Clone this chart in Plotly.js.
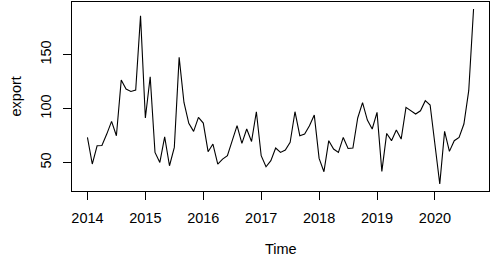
<!DOCTYPE html>
<html>
<head>
<meta charset="utf-8">
<script src="https://cdn.plot.ly/plotly-3.0.1.min.js"></script>
<style>html,body{margin:0;padding:0;background:#fff;}#chart{width:492px;height:259px;}</style>
</head>
<body>
<div id="chart"></div>
<script>
// Monthly series, starting Jan 2014
const startYear = 2014;
const frequency = 12;
const exportValues = [
  73.4, 48.8, 65.7, 66.0, 76.5, 88.3, 75.0, 126.5, 118.2, 116.0, 117.3, 186.0,
  91.4, 129.6, 59.5, 50.3, 74.0, 47.2, 64.2, 147.5, 105.8, 86.4, 79.0, 92.0,
  86.7, 60.2, 67.3, 48.8, 53.4, 56.5, 70.4, 84.3, 67.9, 81.2, 69.7, 97.2,
  56.5, 46.3, 51.9, 63.6, 59.5, 61.7, 68.8, 97.2, 75.0, 76.5, 84.3, 94.1,
  54.0, 41.7, 70.4, 62.7, 59.5, 73.4, 63.2, 63.6, 91.4, 105.6, 89.5, 81.2,
  96.6, 42.0, 77.1, 70.4, 80.3, 71.9, 101.2, 98.1, 95.1, 98.1, 107.4, 103.4,
  67.0, 30.3, 79.0, 60.5, 70.4, 73.4, 85.8, 116.7, 192.3
];
const xTickVals = [2014, 2015, 2016, 2017, 2018, 2019, 2020];
const xTickText = ["2014", "2015", "2016", "2017", "2018", "2019", "2020"];
const yTickVals = [50, 100, 150];
const yTickText = ["50", "100", "150"];
const xTitle = "Time";
const yTitle = "export";

const timeIndex = exportValues.map((_, i) => startYear + i / frequency);

// R-style 4% range extension
function extend(arr) {
  const lo = Math.min(...arr), hi = Math.max(...arr);
  const d = (hi - lo) * 0.04;
  return [lo - d, hi + d];
}

const font = {family: "Liberation Sans, Arial, sans-serif", size: 14.5, color: "#000"};

const trace = {
  x: timeIndex,
  y: exportValues,
  type: "scatter",
  mode: "lines",
  line: {color: "#000", width: 1.1},
  hoverinfo: "skip"
};

const layout = {
  width: 492,
  height: 259,
  margin: {l: 72, r: 3, t: 2, b: 68},
  paper_bgcolor: "#fff",
  plot_bgcolor: "#fff",
  showlegend: false,
  font: font,
  xaxis: {
    range: extend(timeIndex),
    tickmode: "array",
    tickvals: xTickVals,
    ticktext: xTickText,
    ticks: "outside",
    ticklen: 8,
    tickwidth: 1,
    tickcolor: "#000",
    showgrid: false,
    zeroline: false,
    showline: true,
    linecolor: "#000",
    linewidth: 1,
    mirror: true,
    ticklabelstandoff: 6,
    tickfont: font,
    automargin: false
  },
  yaxis: {
    range: extend(exportValues),
    tickmode: "array",
    tickvals: yTickVals,
    ticktext: yTickText,
    tickangle: -90,
    ticks: "outside",
    ticklen: 8,
    tickwidth: 1,
    tickcolor: "#000",
    showgrid: false,
    zeroline: false,
    showline: true,
    linecolor: "#000",
    linewidth: 1,
    mirror: true,
    ticklabelstandoff: 6,
    tickfont: font,
    automargin: false
  },
  annotations: [
    {text: xTitle, xref: "paper", yref: "paper", x: 0.5, y: 0, xanchor: "center", yanchor: "bottom",
     yshift: -67, borderpad: 0, showarrow: false, font: font},
    {text: yTitle, xref: "paper", yref: "paper", x: 0, y: 0.5, xanchor: "center", yanchor: "middle",
     xshift: -57, textangle: -90, showarrow: false, font: font}
  ]
};

Plotly.newPlot("chart", [trace], layout, {staticPlot: true, displayModeBar: false});
</script>
</body>
</html>
